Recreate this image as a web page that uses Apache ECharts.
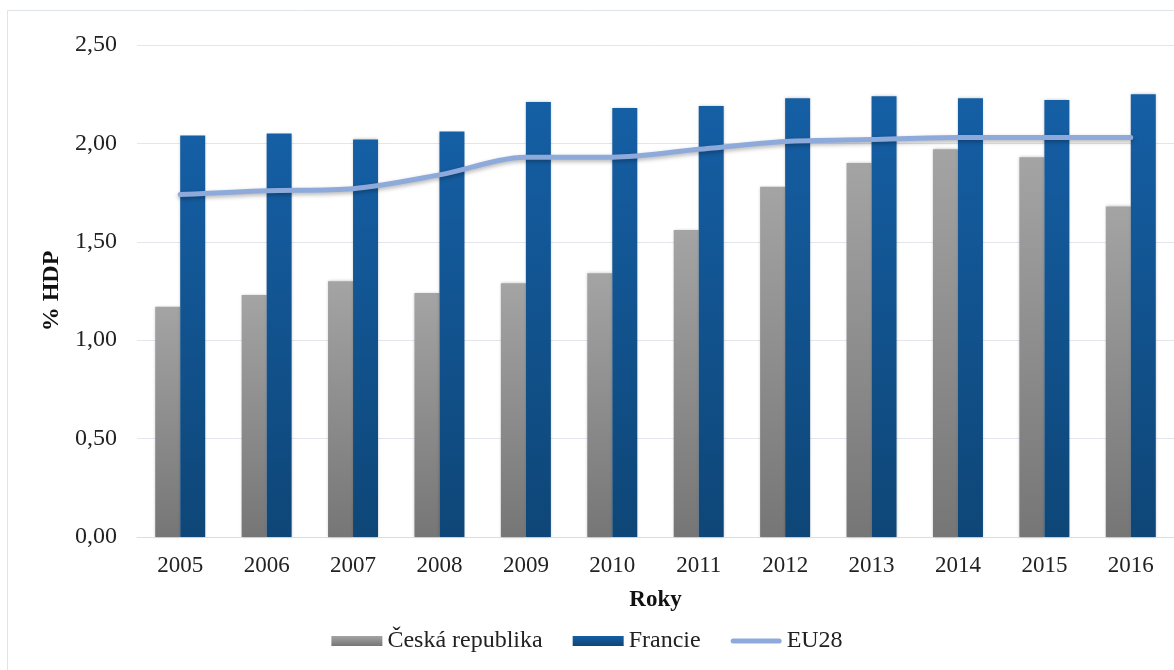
<!DOCTYPE html>
<html>
<head>
<meta charset="utf-8">
<script src="https://cdn.jsdelivr.net/npm/echarts@6/dist/echarts.min.js"></script>
<style>
  html, body { margin: 0; padding: 0; background: #fff; }
  #chart { width: 1174px; height: 670px; }
</style>
</head>
<body>
<div id="chart"></div>
<script>
// roky
const years = ['2005', '2006', '2007', '2008', '2009', '2010', '2011', '2012', '2013', '2014', '2015', '2016']
// výdaje v % HDP
const czValues = [1.17, 1.23, 1.30, 1.24, 1.29, 1.34, 1.56, 1.78, 1.90, 1.97, 1.93, 1.68]
const frValues = [2.04, 2.05, 2.02, 2.06, 2.21, 2.18, 2.19, 2.23, 2.24, 2.23, 2.22, 2.25]
const euValues = [1.74, 1.76, 1.77, 1.84, 1.93, 1.93, 1.97, 2.01, 2.02, 2.03, 2.03, 2.03]
const yTicks = { min: 0, max: 2.5, interval: 0.5 }

const font = 'Liberation Serif'
const chart = echarts.init(document.getElementById('chart'))

const option = {
  textStyle: { fontFamily: font },
  animation: false,
  graphic: [{
    type: 'rect',
    shape: { x: 7.5, y: 10.5, width: 1200, height: 700 },
    style: { fill: 'none', stroke: '#dfe3ea', lineWidth: 1 },
    z: -1
  }],
  grid: {
    left: 137,
    right: -7,
    top: 45,
    bottom: 133
  },
  legend: {
    bottom: 12,
    left: 'center',
    itemWidth: 51,
    itemHeight: 10,
    itemGap: 30,
    textStyle: { fontFamily: font, fontSize: 24, color: '#222' },
    data: [
      { name: 'Česká republika', icon: 'rect' },
      { name: 'Francie', icon: 'rect' },
      { name: 'EU28', icon: 'path://M0,0 M2.5,2.5 L48.5,2.5 A2.5,2.5 0 0 1 48.5,7.5 L2.5,7.5 A2.5,2.5 0 0 1 2.5,2.5 Z M51,10' }
    ]
  },
  xAxis: {
    type: 'category',
    data: years,
    name: 'Roky',
    nameLocation: 'middle',
    nameGap: 52,
    nameTextStyle: { fontFamily: font, fontSize: 23, fontWeight: 'bold', color: '#111' },
    axisLine: { lineStyle: { color: '#d9dde5' } },
    axisTick: { show: false },
    axisLabel: { fontSize: 23, color: '#222', margin: 17 }
  },
  yAxis: {
    type: 'value',
    min: yTicks.min,
    max: yTicks.max,
    interval: yTicks.interval,
    name: '% HDP',
    nameLocation: 'middle',
    nameGap: 71,
    nameTextStyle: { fontFamily: font, fontSize: 24, fontWeight: 'bold', color: '#111' },
    axisLine: { show: false },
    axisTick: { show: false },
    splitLine: { lineStyle: { color: '#e3e6ec', width: 1 } },
    axisLabel: {
      fontSize: 24,
      color: '#222',
      margin: 20,
      formatter: v => v.toFixed(2).replace('.', ',')
    }
  },
  series: [
    {
      name: 'Česká republika',
      type: 'bar',
      data: czValues,
      barWidth: 25,
      barGap: '0%',
      itemStyle: {
        color: new echarts.graphic.LinearGradient(0, 0, 0, 1, [
          { offset: 0, color: '#a4a4a4' },
          { offset: 1, color: '#767676' }
        ]),
        shadowColor: 'rgba(0,0,0,0.25)',
        shadowBlur: 3
      }
    },
    {
      name: 'Francie',
      type: 'bar',
      data: frValues,
      barWidth: 25,
      barGap: '0%',
      itemStyle: {
        color: new echarts.graphic.LinearGradient(0, 0, 0, 1, [
          { offset: 0, color: '#155fa5' },
          { offset: 1, color: '#0e4677' }
        ]),
        shadowColor: 'rgba(0,0,0,0.25)',
        shadowBlur: 3
      }
    },
    {
      name: 'EU28',
      type: 'line',
      data: euValues,
      smooth: 0.3,
      showSymbol: false,
      symbol: 'none',
      z: 5,
      lineStyle: {
        color: '#8eaadb',
        width: 5,
        cap: 'round',
        shadowColor: 'rgba(0,0,0,0.3)',
        shadowBlur: 4,
        shadowOffsetY: 2
      },
      itemStyle: { color: '#8eaadb' }
    }
  ]
}

chart.setOption(option)
</script>
</body>
</html>
